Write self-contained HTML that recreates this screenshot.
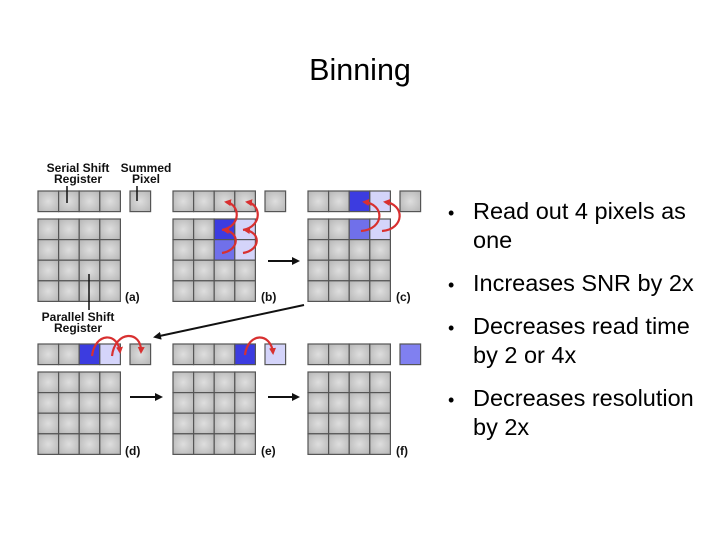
<!DOCTYPE html>
<html><head><meta charset="utf-8"><style>
html,body{margin:0;padding:0;background:#fff;width:720px;height:540px;overflow:hidden}
</style></head><body>
<svg id="s" width="720" height="540" xmlns="http://www.w3.org/2000/svg" font-family="Liberation Sans, Arial, sans-serif">
<defs>
<radialGradient id="g" cx="50%" cy="50%" r="70%"><stop offset="0" stop-color="#dedede"/><stop offset="1" stop-color="#b4b4b4"/></radialGradient>
<marker id="ah" markerWidth="8" markerHeight="8" refX="6" refY="4" orient="auto" markerUnits="userSpaceOnUse"><path d="M0,0 L8,4 L0,8 z" fill="#111"/></marker>
<marker id="rh" markerWidth="7" markerHeight="7" refX="5" refY="3.5" orient="auto" markerUnits="userSpaceOnUse"><path d="M0,0 L7,3.5 L0,7 z" fill="#d83030"/></marker>
</defs>
<text x="360" y="80" font-size="30.5" text-anchor="middle" fill="#000">Binning</text>
<g id="d"></g>
<g font-size="23.5" fill="#000">
<text x="448" y="219" font-size="18">•</text><text x="473" y="219">Read out 4 pixels as</text>
<text x="473" y="248">one</text>
<text x="448" y="291" font-size="18">•</text><text x="473" y="291">Increases SNR by 2x</text>
<text x="448" y="334" font-size="18">•</text><text x="473" y="334">Decreases read time</text>
<text x="473" y="363">by 2 or 4x</text>
<text x="448" y="406" font-size="18">•</text><text x="473" y="406">Decreases resolution</text>
<text x="473" y="435">by 2x</text>
</g>
<g font-size="12" font-weight="bold" text-anchor="middle" fill="#111">
<text x="78" y="172">Serial Shift</text><text x="78" y="183">Register</text>
<text x="146" y="172">Summed</text><text x="146" y="183">Pixel</text>
<text x="78" y="321">Parallel Shift</text><text x="78" y="332">Register</text>
</g>
<g stroke="#111" stroke-width="1.5">
<line x1="67" y1="186" x2="67" y2="203"/><line x1="137" y1="186" x2="137" y2="201"/>
<line x1="89" y1="274" x2="89" y2="310"/>
</g>
<g stroke="#111" stroke-width="2" marker-end="url(#ah)">
<line x1="268" y1="261" x2="298" y2="261"/>
<line x1="130" y1="397" x2="161" y2="397"/>
<line x1="268" y1="397" x2="298" y2="397"/>
<line x1="304" y1="305" x2="155" y2="337"/>
</g>
<g font-size="12" font-weight="bold" fill="#111">
<text x="125" y="301">(a)</text><text x="261" y="301">(b)</text><text x="396" y="301">(c)</text>
<text x="125" y="455">(d)</text><text x="261" y="455">(e)</text><text x="396" y="455">(f)</text>
</g>
<g id="arr" fill="none" stroke="#d83030" stroke-width="2.2" marker-end="url(#rh)"></g>
</svg>
<script>
var N="http://www.w3.org/2000/svg",d=document.getElementById('d'),C=20.6;
function cell(x,y,f){var r=document.createElementNS(N,'rect');r.setAttribute('x',x);r.setAttribute('y',y);r.setAttribute('width',C);r.setAttribute('height',C);r.setAttribute('fill',f||'url(#g)');r.setAttribute('stroke','#555');r.setAttribute('stroke-width','1.2');d.appendChild(r);}
var DB='#3c3ce0',MB='#7070ea',LB='#d4d4fa',SB='#8080f0';
function panel(x,ry,gy,reg,sum,grid){
 for(var i=0;i<4;i++)cell(x+i*C,ry,reg[i]);
 if(sum!==null)cell(x+92,ry,sum);
 for(var r=0;r<4;r++)for(var c=0;c<4;c++)cell(x+c*C,gy+r*C,(grid[r]||[])[c]);
}
panel(38,191,219,[],undefined,[]);
panel(173,191,219,[],undefined,[[0,0,DB,LB],[0,0,MB,LB]]);
panel(308,191,219,[0,0,DB,LB],undefined,[[0,0,MB,LB]]);
panel(38,344,372,[0,0,DB,LB],undefined,[]);
panel(173,344,372,[0,0,0,DB],LB,[]);
panel(308,344,372,[],SB,[]);
var a=document.getElementById('arr');
function p(s){var e=document.createElementNS(N,'path');e.setAttribute('d',s);a.appendChild(e);}
// b
p('M222,253 C240,250 240,232 224,230');p('M243,253 C261,250 261,232 245,230');
p('M222,230 C242,226 240,204 226,202');p('M243,230 C263,226 261,204 247,202');
// c
p('M361,231 C385,229 385,204 364,202');p('M382,231 C405,229 405,204 385,202');
// d
p('M92,356 C95,332 118,332 120,352');p('M112,356 C115,330 142,330 141,352');
// e
p('M245,355 C248,332 271,332 273,353');
</script>
</body></html>
